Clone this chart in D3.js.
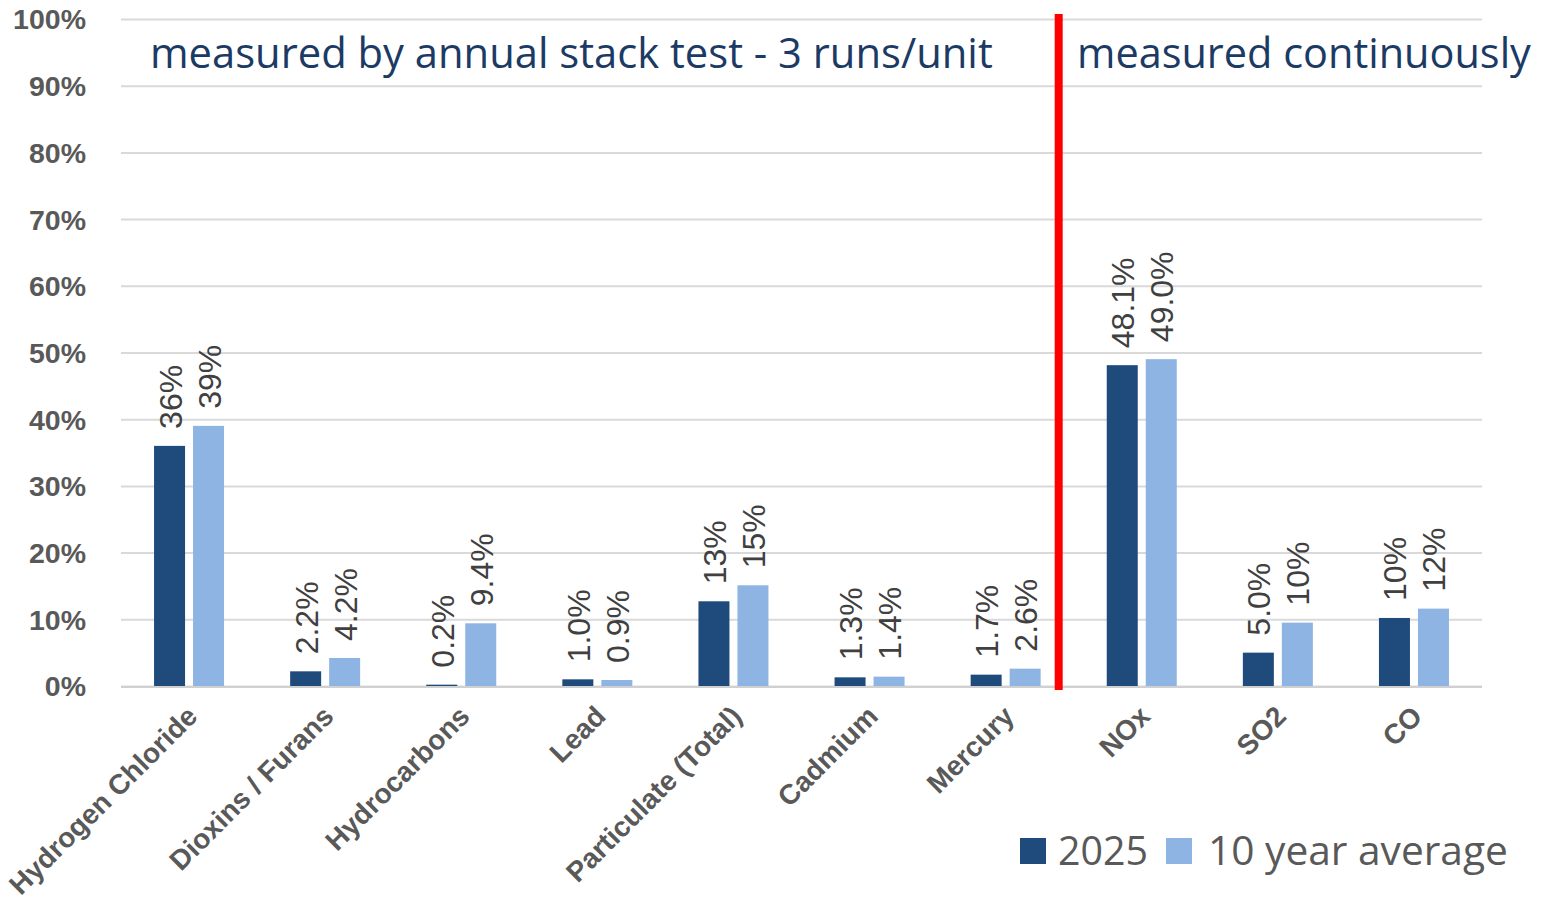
<!DOCTYPE html>
<html><head><meta charset="utf-8">
<script src="https://cdn.jsdelivr.net/npm/d3@7"></script>
<style>
html,body{margin:0;padding:0;background:#fff;}
svg{display:block;}
</style></head>
<body>
<svg id="chart" width="1542" height="909"></svg>
<script>
const categories = ["Hydrogen Chloride","Dioxins / Furans","Hydrocarbons","Lead","Particulate (Total)","Cadmium","Mercury","NOx","SO2","CO"];
const seriesNames = ["2025","10 year average"];
const values2025 = [36, 2.2, 0.2, 1.0, 12.7, 1.3, 1.7, 48.1, 5.0, 10.2];
const valuesAvg  = [39, 4.2, 9.4, 0.9, 15.1, 1.4, 2.6, 49.0, 9.5, 11.6];
const labels2025 = ["36%","2.2%","0.2%","1.0%","13%","1.3%","1.7%","48.1%","5.0%","10%"];
const labelsAvg  = ["39%","4.2%","9.4%","0.9%","15%","1.4%","2.6%","49.0%","10%","12%"];
const yTicks = [0,10,20,30,40,50,60,70,80,90,100];
const sectionTitles = ["measured by annual stack test - 3 runs/unit","measured continuously"];
const colors = ["#1F4A7C","#8EB4E3"];

const svg = d3.select("#chart");
const L = 121, R = 1482, T = 19, B = 686;

const x = d3.scaleBand().domain(categories).range([L, R]).padding(0);
const xs = d3.scaleBand().domain(seriesNames).range([x.bandwidth()/2 - 35, x.bandwidth()/2 + 35]).paddingInner(8/39);
const y = d3.scaleLinear().domain([0, 100]).range([B, T]);

// gridlines
const yAxis = d3.axisLeft(y).tickValues(yTicks).tickFormat(d => d + "%").tickSize(-(R - L)).tickPadding(35);
const gy = svg.append("g").attr("transform", `translate(${L},0)`).call(yAxis);
gy.select(".domain").remove();
gy.selectAll(".tick line").attr("stroke", "#d9d9d9").attr("stroke-width", 2);
gy.selectAll(".tick text").attr("fill", "#595959").attr("font-family", "'Liberation Sans', Arial, sans-serif")
  .attr("font-weight", "bold").attr("font-size", 28.5).attr("dy", "0.35em");

// bars
const rows = categories.map((c, i) => ({c, vals: [
  {s: seriesNames[0], v: values2025[i], lab: labels2025[i], col: colors[0]},
  {s: seriesNames[1], v: valuesAvg[i], lab: labelsAvg[i], col: colors[1]}
]}));
const groups = svg.append("g").selectAll("g").data(rows).join("g")
  .attr("transform", d => `translate(${x(d.c)},0)`);
groups.selectAll("rect").data(d => d.vals).join("rect")
  .attr("x", d => xs(d.s)).attr("width", xs.bandwidth())
  .attr("y", d => y(d.v)).attr("height", d => B - y(d.v))
  .attr("fill", d => d.col);

// x axis baseline
svg.append("line").attr("x1", L).attr("x2", R).attr("y1", B + 1).attr("y2", B + 1)
  .attr("stroke", "#d0d0d0").attr("stroke-width", 2);

// data labels
groups.selectAll("text.lab").data(d => d.vals).join("text").attr("class", "lab")
  .attr("transform", d => `translate(${xs(d.s) + xs.bandwidth()/2 + 12},${y(d.v) - 17}) rotate(-90)`)
  .attr("text-anchor", "start")
  .attr("font-family", "'Liberation Sans', Arial, sans-serif")
  .attr("font-size", 32).attr("fill", "#404040")
  .text(d => d.lab);

// category labels
const xAxis = d3.axisBottom(x).tickSize(0).tickPadding(0);
const gx = svg.append("g").attr("transform", `translate(0,${B})`).call(xAxis);
gx.select(".domain").remove();
gx.selectAll(".tick text")
  .attr("transform", "translate(10,32) rotate(-45)")
  .attr("text-anchor", "end").attr("dy", 0).attr("y", 0).attr("x", 0)
  .attr("fill", "#595959").attr("font-family", "'Liberation Sans', Arial, sans-serif")
  .attr("font-weight", "bold").attr("font-size", 28);

// red divider
const divX = x("NOx") - 15;
svg.append("line").attr("x1", divX).attr("x2", divX).attr("y1", 14).attr("y2", 690)
  .attr("stroke", "#FF0000").attr("stroke-width", 8);

// section titles, fitted to width
function fitText(sel, target) {
  const w = sel.node().getComputedTextLength();
  const fs = parseFloat(sel.attr("font-size"));
  sel.attr("font-size", fs * target / w);
}
const t1 = svg.append("text").attr("x", 150).attr("y", 68)
  .attr("font-family", "'Open Sans', sans-serif").attr("font-size", 40).attr("fill", "#1B3A64")
  .text(sectionTitles[0]);
fitText(t1, 843);
const t2 = svg.append("text").attr("x", 1077).attr("y", 68)
  .attr("font-family", "'Open Sans', sans-serif").attr("font-size", 40).attr("fill", "#1B3A64")
  .text(sectionTitles[1]);
fitText(t2, 454);

// legend
const leg = svg.append("g");
const legItems = [
  {name: seriesNames[0], col: colors[0], sx: 1020, tx: 1058, w: 90},
  {name: seriesNames[1], col: colors[1], sx: 1166, tx: 1208, w: 300}
];
legItems.forEach(it => {
  leg.append("rect").attr("x", it.sx).attr("y", 838).attr("width", 26).attr("height", 26).attr("fill", it.col);
  const t = leg.append("text").attr("x", it.tx).attr("y", 865)
    .attr("font-family", "'Open Sans', sans-serif").attr("font-size", 40).attr("fill", "#595959")
    .text(it.name);
  fitText(t, it.w);
});
</script>
</body></html>
